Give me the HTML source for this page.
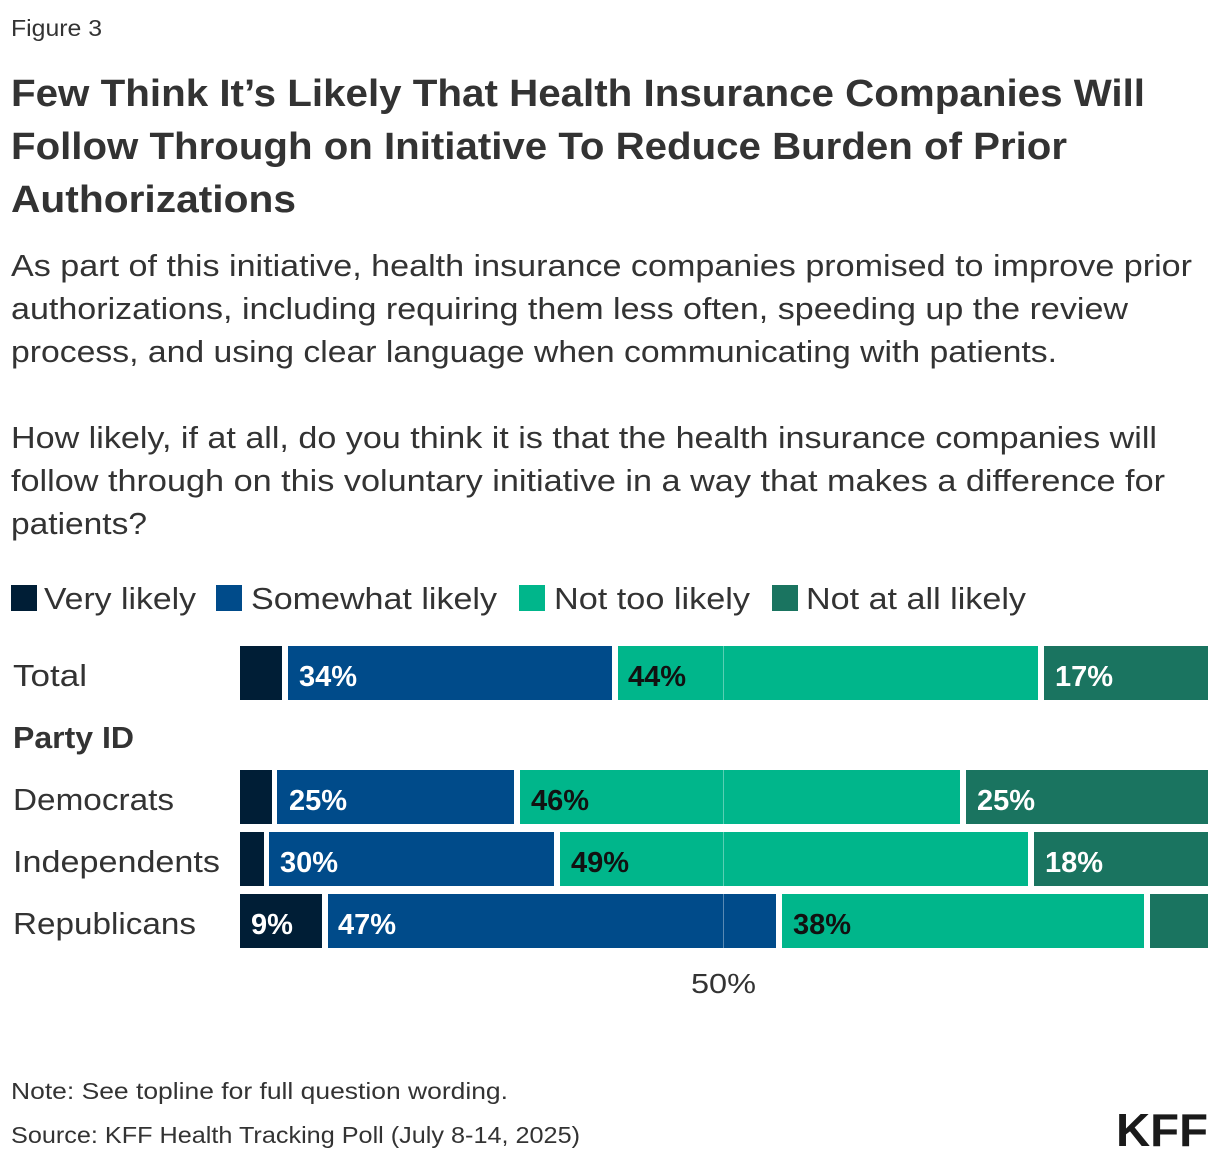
<!DOCTYPE html>
<html><head><meta charset="utf-8"><style>body{margin:0;background:#fff}svg{display:block}text{font-family:"Liberation Sans",sans-serif}</style></head><body>
<svg width="1220" height="1162" viewBox="0 0 1220 1162" xmlns="http://www.w3.org/2000/svg">
<g fill="#333">
<text x="11" y="36" font-size="23" textLength="91" lengthAdjust="spacingAndGlyphs">Figure 3</text>
<g font-size="38" font-weight="bold">
<text x="11" y="106" textLength="1134" lengthAdjust="spacingAndGlyphs">Few Think It’s Likely That Health Insurance Companies Will</text>
<text x="11" y="159" textLength="1056" lengthAdjust="spacingAndGlyphs">Follow Through on Initiative To Reduce Burden of Prior</text>
<text x="11" y="212" textLength="285" lengthAdjust="spacingAndGlyphs">Authorizations</text>
</g>
<g font-size="31">
<text x="11" y="276" textLength="1181" lengthAdjust="spacingAndGlyphs">As part of this initiative, health insurance companies promised to improve prior</text>
<text x="11" y="319" textLength="1117" lengthAdjust="spacingAndGlyphs">authorizations, including requiring them less often, speeding up the review</text>
<text x="11" y="362" textLength="1046" lengthAdjust="spacingAndGlyphs">process, and using clear language when communicating with patients.</text>
<text x="11" y="448" textLength="1146" lengthAdjust="spacingAndGlyphs">How likely, if at all, do you think it is that the health insurance companies will</text>
<text x="11" y="491" textLength="1154" lengthAdjust="spacingAndGlyphs">follow through on this voluntary initiative in a way that makes a difference for</text>
<text x="11" y="534" textLength="136" lengthAdjust="spacingAndGlyphs">patients?</text>
<text x="44" y="609" textLength="152" lengthAdjust="spacingAndGlyphs">Very likely</text>
<text x="251" y="609" textLength="246" lengthAdjust="spacingAndGlyphs">Somewhat likely</text>
<text x="554" y="609" textLength="196" lengthAdjust="spacingAndGlyphs">Not too likely</text>
<text x="806" y="609" textLength="220" lengthAdjust="spacingAndGlyphs">Not at all likely</text>
<text x="13" y="686" textLength="74" lengthAdjust="spacingAndGlyphs">Total</text>
<text x="13" y="748" font-weight="bold" textLength="121" lengthAdjust="spacingAndGlyphs">Party ID</text>
<text x="13" y="810" textLength="161" lengthAdjust="spacingAndGlyphs">Democrats</text>
<text x="13" y="872" textLength="207" lengthAdjust="spacingAndGlyphs">Independents</text>
<text x="13" y="934" textLength="183" lengthAdjust="spacingAndGlyphs">Republicans</text>
</g>
<text x="691" y="993" font-size="28" textLength="65" lengthAdjust="spacingAndGlyphs">50%</text>
<text x="11" y="1099" font-size="23" textLength="497" lengthAdjust="spacingAndGlyphs">Note: See topline for full question wording.</text>
<text x="11" y="1143" font-size="23" textLength="569" lengthAdjust="spacingAndGlyphs">Source: KFF Health Tracking Poll (July 8-14, 2025)</text>
<text x="1116" y="1146" font-size="46" font-weight="bold" fill="#1a1a1a" textLength="92" lengthAdjust="spacingAndGlyphs">KFF</text>
</g>
<rect x="11" y="585" width="26" height="26" fill="#001e36"/>
<rect x="216" y="585" width="26" height="26" fill="#004b8a"/>
<rect x="519" y="585" width="26" height="26" fill="#00b68b"/>
<rect x="772" y="585" width="26" height="26" fill="#1a7460"/>
<g>
<rect x="240" y="646" width="42" height="54" fill="#001e36"/>
<rect x="288" y="646" width="324" height="54" fill="#004b8a"/>
<rect x="618" y="646" width="420" height="54" fill="#00b68b"/>
<rect x="1044" y="646" width="164" height="54" fill="#1a7460"/>
<rect x="240" y="770" width="32" height="54" fill="#001e36"/>
<rect x="277" y="770" width="237" height="54" fill="#004b8a"/>
<rect x="520" y="770" width="440" height="54" fill="#00b68b"/>
<rect x="966" y="770" width="242" height="54" fill="#1a7460"/>
<rect x="240" y="832" width="24" height="54" fill="#001e36"/>
<rect x="269" y="832" width="285" height="54" fill="#004b8a"/>
<rect x="560" y="832" width="468" height="54" fill="#00b68b"/>
<rect x="1034" y="832" width="174" height="54" fill="#1a7460"/>
<rect x="240" y="894" width="82" height="54" fill="#001e36"/>
<rect x="328" y="894" width="448" height="54" fill="#004b8a"/>
<rect x="782" y="894" width="362" height="54" fill="#00b68b"/>
<rect x="1150" y="894" width="58" height="54" fill="#1a7460"/>
</g>
<g stroke="#ffffff" stroke-opacity="0.35" stroke-width="1">
<line x1="723.5" y1="646" x2="723.5" y2="700"/>
<line x1="723.5" y1="770" x2="723.5" y2="948"/>
</g>
<g font-size="29" font-weight="bold">
<text x="299" y="686" fill="#fff">34%</text>
<text x="628" y="686" fill="#111">44%</text>
<text x="1055" y="686" fill="#fff">17%</text>
<text x="289" y="810" fill="#fff">25%</text>
<text x="531" y="810" fill="#111">46%</text>
<text x="977" y="810" fill="#fff">25%</text>
<text x="280" y="872" fill="#fff">30%</text>
<text x="571" y="872" fill="#111">49%</text>
<text x="1045" y="872" fill="#fff">18%</text>
<text x="251" y="934" fill="#fff">9%</text>
<text x="338" y="934" fill="#fff">47%</text>
<text x="793" y="934" fill="#111">38%</text>
</g>
</svg>
</body></html>
